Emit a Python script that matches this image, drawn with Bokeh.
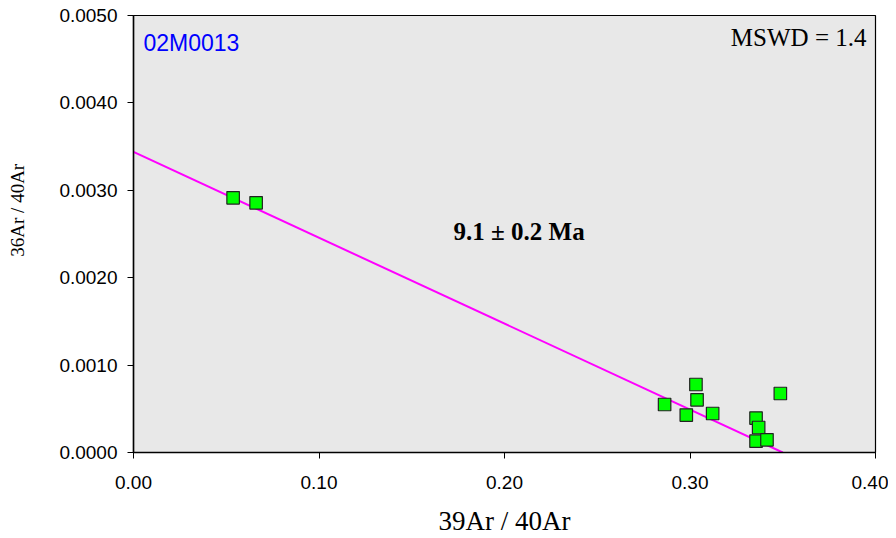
from bokeh.plotting import figure
from bokeh.models import Range1d, FixedTicker, NumeralTickFormatter, Label, ColumnDataSource
from bokeh.embed import file_html
from bokeh.resources import INLINE

# data
x_39_40 = [0.0537, 0.0661, 0.2863, 0.3032, 0.3038, 0.2980, 0.3122, 0.3356, 0.3370, 0.3356, 0.3415, 0.3487]
y_36_40 = [0.002914, 0.002857, 0.000549, 0.000778, 0.000603, 0.000428, 0.000446, 0.000394, 0.000286, 0.000130, 0.000145, 0.000675]
fit_x = [0.0, 0.350]
fit_y = [0.00344, 0.0]
x_ticks = [0.0, 0.1, 0.2, 0.3, 0.4]
y_ticks = [0.0, 0.001, 0.002, 0.003, 0.004, 0.005]

p = figure(output_backend="svg", toolbar_location=None,
           frame_width=742, frame_height=437,
           min_border_left=133, min_border_top=15, min_border_right=13, min_border_bottom=78,
           x_range=Range1d(0, 0.40), y_range=Range1d(0, 0.005))
p.background_fill_color = "#E8E8E8"
p.border_fill_color = "white"
p.grid.visible = False
p.outline_line_color = "black"
p.outline_line_width = 1.2

p.line(fit_x, fit_y, line_color="#FF00FF", line_width=2)
src = ColumnDataSource(dict(x=x_39_40, y=y_36_40))
p.scatter("x", "y", source=src, marker="square", size=12.5, fill_color="#00FF00",
          line_color="#222222", line_width=1.2)

for ax in (p.xaxis[0], p.yaxis[0]):
    ax.axis_line_color = "black"
    ax.axis_line_width = 1.5
    ax.major_tick_line_color = "black"
    ax.major_tick_line_width = 1
    ax.major_tick_in = 0
    ax.major_tick_out = 6
    ax.minor_tick_line_color = None
    ax.major_label_text_font = "Liberation Sans"
    ax.major_label_text_font_size = "19px"
    ax.major_label_text_color = "black"
    ax.axis_label_text_font = "Liberation Serif"
    ax.axis_label_text_font_style = "normal"
    ax.axis_label_text_color = "black"

p.xaxis.ticker = FixedTicker(ticks=x_ticks)
p.yaxis.ticker = FixedTicker(ticks=y_ticks)
p.xaxis.formatter = NumeralTickFormatter(format="0.00")
p.yaxis.formatter = NumeralTickFormatter(format="0.0000")
p.xaxis.axis_label = "39Ar / 40Ar"
p.xaxis.axis_label_text_font_size = "27px"
p.xaxis.major_label_standoff = 17
p.yaxis.major_label_standoff = 10
p.xaxis.axis_label_standoff = 14
# leading no-break spaces lift the rotated title slightly above the frame centre
p.yaxis.axis_label = "\u00a0" * 10 + "36Ar / 40Ar"
p.yaxis.axis_label_text_font_size = "19px"
p.yaxis.axis_label_standoff = 28

p.add_layout(Label(x=10, y=410, x_units="screen", y_units="screen", text="02M0013",
                   text_font="Liberation Sans", text_font_size="23px", text_color="#0000FF",
                   text_baseline="middle"))
p.add_layout(Label(x=733, y=415, x_units="screen", y_units="screen", text="MSWD = 1.4",
                   text_font="Liberation Serif", text_font_size="25px", text_color="black",
                   text_align="right", text_baseline="middle"))
p.add_layout(Label(x=0.2079, y=0.002534, text="9.1 ± 0.2 Ma",
                   text_font="Liberation Serif", text_font_size="25px", text_font_style="bold",
                   text_color="black", text_align="center", text_baseline="middle"))

open("out.html", "w").write(file_html(p, INLINE))
